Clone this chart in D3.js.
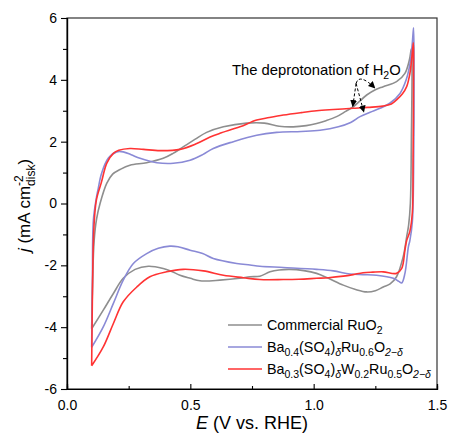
<!DOCTYPE html>
<html>
<head>
<meta charset="utf-8">
<script src="https://cdn.jsdelivr.net/npm/d3@7"></script>
<style>
  body { margin: 0; background: #fff; }
  text { font-family: Arial, "Liberation Sans", sans-serif; fill: #000; }
</style>
</head>
<body>
<script>
    //data: [E (V vs RHE), j (mA cm-2)], anodic scan then cathodic scan
    var ruo2 = [
        [0.100, -4.05], [0.104, -2.5], [0.110, -1.2], [0.120, -0.5], [0.134, 0.0], [0.161, 0.65],
        [0.185, 0.95], [0.215, 1.10], [0.255, 1.24], [0.323, 1.32], [0.390, 1.46], [0.430, 1.62],
        [0.471, 1.83], [0.520, 2.08], [0.566, 2.30], [0.634, 2.48], [0.728, 2.60], [0.800, 2.60],
        [0.860, 2.50], [0.917, 2.48], [0.970, 2.52], [1.012, 2.59], [1.050, 2.68], [1.093, 2.81],
        [1.130, 2.98], [1.161, 3.13], [1.215, 3.51], [1.250, 3.68], [1.282, 3.78], [1.336, 3.94],
        [1.370, 4.21], [1.388, 4.64], [1.396, 5.00],
        [1.398, 4.90], [1.396, 2.0], [1.392, 0.0], [1.385, -0.7], [1.377, -1.08], [1.363, -1.72],
        [1.336, -2.37], [1.310, -2.60], [1.282, -2.70], [1.250, -2.82], [1.215, -2.86], [1.170, -2.78],
        [1.120, -2.64], [1.060, -2.42], [1.012, -2.26], [0.960, -2.17], [0.904, -2.13], [0.860, -2.15],
        [0.823, -2.21], [0.782, -2.35], [0.742, -2.37], [0.701, -2.42], [0.620, -2.48], [0.539, -2.50],
        [0.500, -2.42], [0.458, -2.32], [0.420, -2.18], [0.390, -2.10], [0.330, -2.03], [0.276, -2.13],
        [0.228, -2.42], [0.188, -2.91], [0.147, -3.45], [0.100, -4.05]
    ];

    var baRu = [
        [0.100, -4.65], [0.103, -2.5], [0.107, -0.54], [0.120, 0.22], [0.127, 0.50], [0.140, 0.97],
        [0.167, 1.46], [0.201, 1.67], [0.228, 1.67], [0.260, 1.58], [0.296, 1.46], [0.364, 1.32],
        [0.431, 1.30], [0.499, 1.40], [0.550, 1.58], [0.593, 1.78], [0.674, 2.00], [0.769, 2.21],
        [0.850, 2.30], [0.950, 2.33], [1.026, 2.37], [1.100, 2.48], [1.150, 2.62], [1.188, 2.81],
        [1.229, 2.95], [1.269, 3.08], [1.310, 3.25], [1.350, 3.56], [1.375, 4.00], [1.390, 4.50],
        [1.400, 5.20], [1.405, 5.68],
        [1.407, 4.40], [1.405, 1.0], [1.400, -0.6], [1.390, -1.2], [1.384, -1.40], [1.370, -2.26],
        [1.357, -2.57], [1.345, -2.52], [1.323, -2.42], [1.255, -2.32], [1.200, -2.30], [1.147, -2.28],
        [1.080, -2.18], [1.012, -2.13], [0.877, -2.07], [0.782, -2.03], [0.742, -1.99], [0.688, -1.94],
        [0.593, -1.78], [0.550, -1.62], [0.499, -1.51], [0.450, -1.40], [0.417, -1.38], [0.370, -1.45],
        [0.323, -1.62], [0.269, -1.94], [0.228, -2.48], [0.188, -3.23], [0.147, -3.99], [0.100, -4.65]
    ];

    var baWRu = [
        [0.100, -5.25], [0.103, -3.0], [0.107, -1.2], [0.112, -0.4], [0.120, 0.15], [0.140, 0.70],
        [0.161, 1.30], [0.188, 1.62], [0.210, 1.72], [0.255, 1.78], [0.310, 1.75], [0.377, 1.71],
        [0.458, 1.75], [0.526, 1.94], [0.580, 2.15], [0.620, 2.27], [0.701, 2.48], [0.769, 2.70],
        [0.820, 2.78], [0.877, 2.86], [0.950, 2.94], [1.012, 3.00], [1.080, 3.04], [1.160, 3.08],
        [1.220, 3.11], [1.280, 3.15], [1.315, 3.22], [1.336, 3.35], [1.360, 3.55], [1.377, 3.78],
        [1.390, 4.20], [1.397, 4.64], [1.404, 5.20],
        [1.405, 4.60], [1.403, 1.5], [1.400, -0.3], [1.390, -0.9], [1.377, -1.2], [1.370, -1.51],
        [1.357, -2.10], [1.336, -2.26], [1.282, -2.21], [1.240, -2.22], [1.200, -2.24], [1.160, -2.30],
        [1.120, -2.35], [1.060, -2.40], [1.012, -2.42], [0.940, -2.45], [0.877, -2.46], [0.782, -2.46],
        [0.715, -2.40], [0.634, -2.32], [0.553, -2.18], [0.471, -2.13], [0.404, -2.21], [0.336, -2.37],
        [0.283, -2.70], [0.228, -3.18], [0.188, -3.88], [0.147, -4.64], [0.100, -5.25]
    ];

    var xTicks = [0, 0.5, 1.0, 1.5];
    var xMinorTicks = [0.25, 0.75, 1.25];
    var yTicks = [-6, -4, -2, 0, 2, 4, 6];
    var yMinorTicks = [-5, -3, -1, 1, 3, 5];

    //legend entries: [text, "sub" if subscript]
    var legendLabels = [
        [["Commercial RuO", ""], ["2", "sub"]],
        [["Ba", ""], ["0.4", "sub"], ["(SO", ""], ["4", "sub"], [")", ""], ["\u03b4", "sub"], ["Ru", ""], ["0.6", "sub"], ["O", ""], ["2\u2212\u03b4", "sub"]],
        [["Ba", ""], ["0.3", "sub"], ["(SO", ""], ["4", "sub"], [")", ""], ["\u03b4", "sub"], ["W", ""], ["0.2", "sub"], ["Ru", ""], ["0.5", "sub"], ["O", ""], ["2\u2212\u03b4", "sub"]]
    ];
    var colors = ["#8e8e8e", "#8a8ad6", "#ff3333"];

    //annotation arrow points in data units
    var arrowStart = [1.172, 3.88];
    var arrowTips = [[1.158, 3.12], [1.204, 2.94]];
    var curvedArrowTip = [1.250, 3.72];

    var width = 451, height = 437;
    var margin = { left: 67, right: 14, top: 18, bottom: 48 };

    var x = d3.scaleLinear().domain([0, 1.5]).range([margin.left, width - margin.right]);
    var y = d3.scaleLinear().domain([-6, 6]).range([height - margin.bottom, margin.top]);

    var svg = d3.select("body").append("svg")
        .attr("width", width)
        .attr("height", height);

    var defs = svg.append("defs");
    defs.append("marker")
        .attr("id", "head")
        .attr("viewBox", "0 0 10 10")
        .attr("refX", 10).attr("refY", 5)
        .attr("markerWidth", 7).attr("markerHeight", 7)
        .attr("orient", "auto")
        .attr("markerUnits", "userSpaceOnUse")
        .append("path").attr("d", "M0,0L10,5L0,10z").attr("fill", "#000");

    //curves
    var line = d3.line()
        .x(function (d) { return x(d[0]); })
        .y(function (d) { return y(d[1]); })
        .curve(d3.curveCatmullRom.alpha(0.5));

    [ruo2, baRu, baWRu].forEach(function (s, i) {
        svg.append("path")
            .datum(s)
            .attr("d", line)
            .attr("fill", "none")
            .attr("stroke", colors[i])
            .attr("stroke-width", 1.6)
            .attr("stroke-linejoin", "round");
    });

    //frame
    svg.append("rect")
        .attr("x", x(0)).attr("y", y(6))
        .attr("width", x(1.5) - x(0)).attr("height", y(-6) - y(6))
        .attr("fill", "none").attr("stroke", "#333").attr("stroke-width", 1.2);

    //axes
    var xAxis = d3.axisBottom(x).tickValues(xTicks).tickSize(-5).tickPadding(11)
        .tickFormat(d3.format(".1f"));
    svg.append("g").attr("transform", "translate(0," + y(-6) + ")").call(xAxis);
    svg.append("g").attr("transform", "translate(0," + y(-6) + ")")
        .call(d3.axisBottom(x).tickValues(xMinorTicks).tickSize(-3).tickFormat(""));

    var yAxis = d3.axisLeft(y).tickValues(yTicks).tickSize(6).tickPadding(4)
        .tickFormat(function (d) { return String(d); });
    svg.append("g").attr("transform", "translate(" + x(0) + ",0)").call(yAxis);
    svg.append("g").attr("transform", "translate(" + x(0) + ",0)")
        .call(d3.axisLeft(y).tickValues(yMinorTicks).tickSize(4).tickFormat(""));

    svg.selectAll(".domain").attr("stroke", "#000").attr("stroke-width", 1.2);
    svg.selectAll(".tick line").attr("stroke", "#000").attr("stroke-width", 1.1);
    svg.selectAll(".tick text").attr("font-size", 14).attr("font-family", "Arial, 'Liberation Sans', sans-serif").attr("fill", "#000");

    //axis titles
    var xt = svg.append("text")
        .attr("x", (x(0) + x(1.5)) / 2).attr("y", height - 8)
        .attr("text-anchor", "middle").attr("font-size", 18);
    xt.append("tspan").attr("font-style", "italic").text("E");
    xt.append("tspan").text(" (V vs. RHE)");

    var yt = svg.append("text")
        .attr("transform", "translate(30," + (y(0) + 2) + ") rotate(-90)")
        .attr("text-anchor", "middle").attr("font-size", 17);
    yt.append("tspan").attr("font-style", "italic").text("j");
    yt.append("tspan").text(" (mA cm");
    var sup = yt.append("tspan").attr("font-size", 12).attr("dy", -7).text("-2");
    var supW = sup.node().getComputedTextLength();
    yt.append("tspan").attr("font-size", 12).attr("dx", -supW).attr("dy", 12).text("disk");
    yt.append("tspan").attr("dy", -5).text(")");

    //annotation
    var at = svg.append("text").attr("x", 232).attr("y", 75).attr("font-size", 14.8);
    at.append("tspan").text("The deprotonation of H");
    at.append("tspan").attr("font-size", 10.5).attr("dy", 4).text("2");
    at.append("tspan").attr("dy", -4).text("O");

    arrowTips.forEach(function (t) {
        svg.append("line")
            .attr("x1", x(arrowStart[0])).attr("y1", y(arrowStart[1]))
            .attr("x2", x(t[0])).attr("y2", y(t[1]))
            .attr("stroke", "#000").attr("stroke-width", 1)
            .attr("stroke-dasharray", "3,2")
            .attr("marker-end", "url(#head)");
    });
    var sx = x(arrowStart[0]), sy = y(arrowStart[1]);
    var ex = x(curvedArrowTip[0]), ey = y(curvedArrowTip[1]);
    svg.append("path")
        .attr("d", "M" + sx + "," + sy + "Q" + (sx + 3) + "," + (sy - 11) + "," + ex + "," + ey)
        .attr("fill", "none").attr("stroke", "#000").attr("stroke-width", 1)
        .attr("stroke-dasharray", "3,2")
        .attr("marker-end", "url(#head)");

    //legend
    var legendY = [325, 347, 369];
    legendLabels.forEach(function (parts, i) {
        svg.append("line")
            .attr("x1", 228).attr("x2", 262)
            .attr("y1", legendY[i]).attr("y2", legendY[i])
            .attr("stroke", colors[i]).attr("stroke-width", 1.6);
        var t = svg.append("text").attr("x", 267).attr("y", legendY[i] + 5).attr("font-size", 14.3);
        var down = false;
        parts.forEach(function (p) {
            var ts = t.append("tspan").text(p[0]);
            if (p[1] === "sub") {
                ts.attr("font-size", 10.5).attr("dy", down ? 0 : 4);
                if (p[0].indexOf("\u03b4") >= 0) ts.attr("font-style", "italic");
                down = true;
            } else {
                ts.attr("dy", down ? -4 : 0);
                down = false;
            }
        });
    });
</script>
</body>
</html>
